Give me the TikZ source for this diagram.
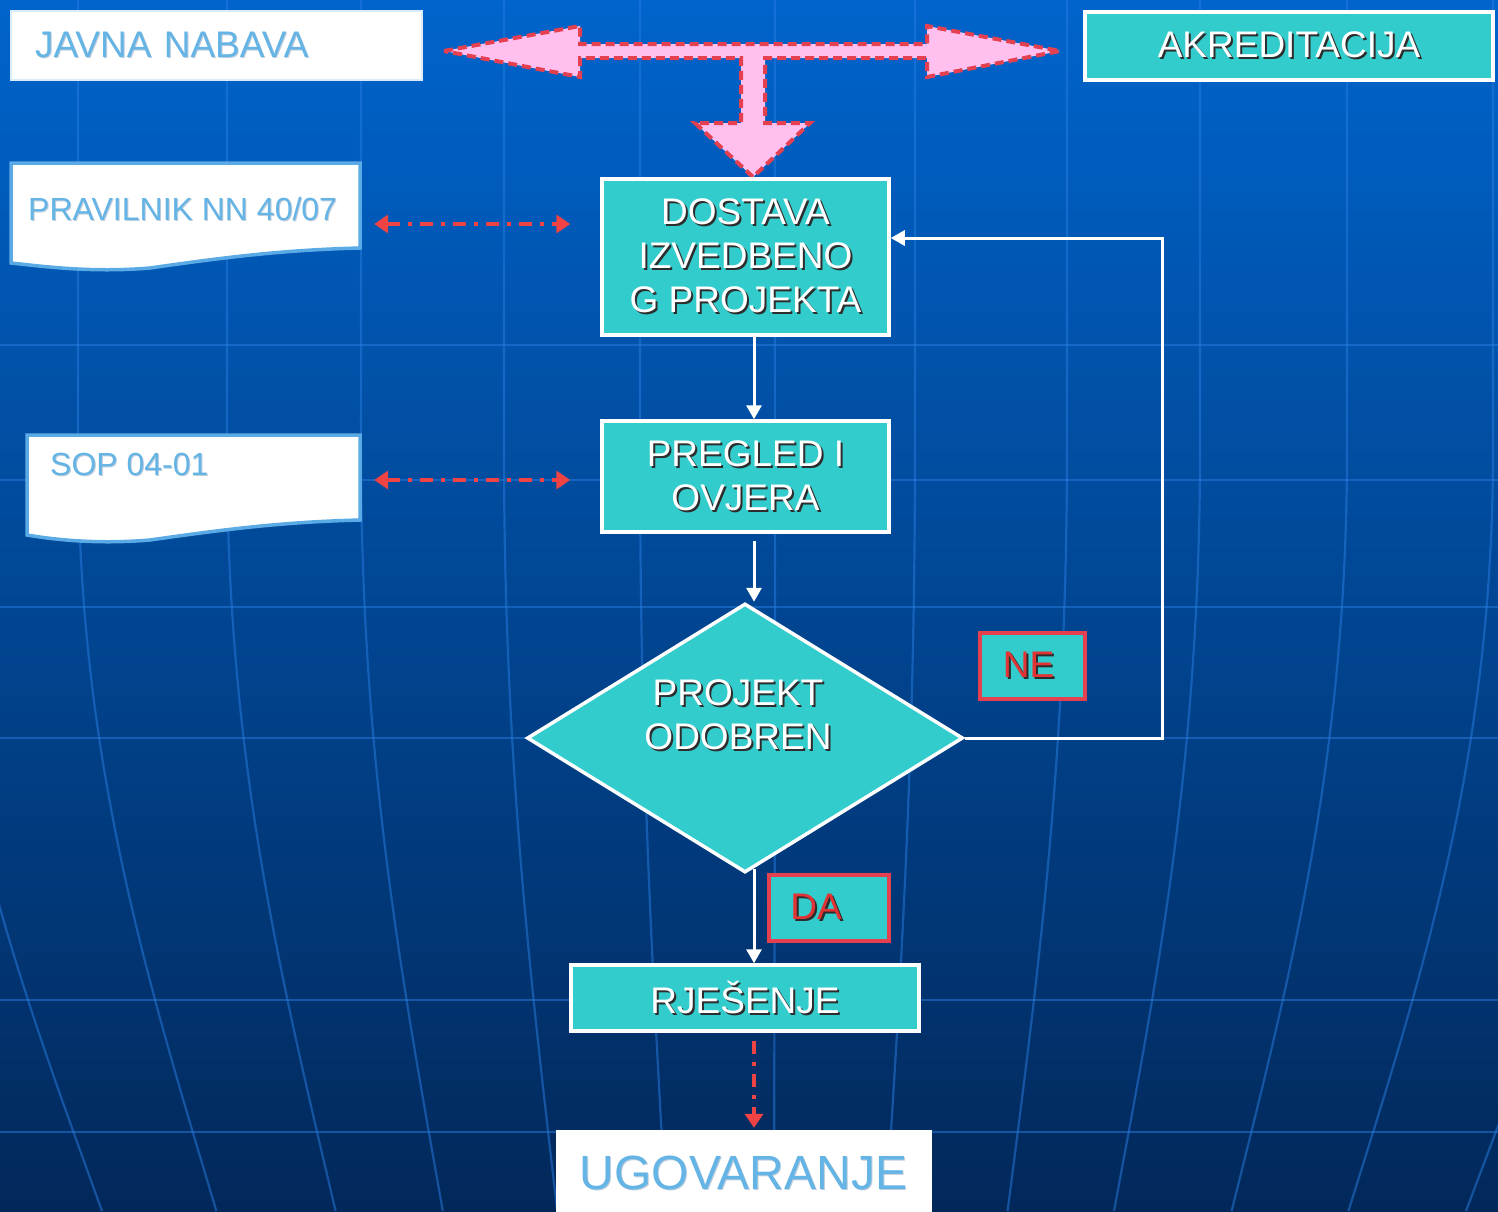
\documentclass[tikz,border=0pt]{standalone}
\usepackage{fontspec}
\setmainfont{Liberation Sans}
\usetikzlibrary{shapes.geometric,arrows.meta,calc}
\definecolor{teal1}{RGB}{51,204,204}
\definecolor{pinkf}{RGB}{255,192,240}
\definecolor{redd}{RGB}{228,64,80}
\definecolor{redl}{RGB}{240,68,68}
\definecolor{redt}{RGB}{226,52,52}
\definecolor{lblue}{RGB}{100,180,230}
\definecolor{docb}{RGB}{90,170,230}
\definecolor{shad}{RGB}{45,45,45}
\definecolor{shadl}{RGB}{190,205,220}
\definecolor{gridc}{RGB}{40,125,225}
\definecolor{bgtop}{RGB}{0,100,204}
\definecolor{bgmid}{RGB}{4,72,148}
\definecolor{bgbot}{RGB}{2,40,90}
\newcommand\shtx[2][white]{\leavevmode\rlap{\kern2pt\raisebox{-2pt}{\textcolor{shad}{#2}}}\textcolor{#1}{#2}}
\newcommand\shbl[1]{\leavevmode\rlap{\kern1pt\raisebox{-1pt}{\textcolor{shadl}{#1}}}\textcolor{lblue}{#1}}
\tikzset{
  big/.style={font=\fontsize{37}{44}\selectfont},
  procbox/.style={draw=white, line width=3.5pt, fill=teal1, inner sep=0pt, big, align=center},
  labbox/.style={draw=redd, line width=3.5pt, fill=teal1, inner sep=0pt, big},
  whitebox/.style={draw=white!75!lblue, line width=1.5pt, fill=white, inner sep=0pt, big},
  docshape/.style={draw=docb, line width=3.5pt, fill=white},
  flow/.style={draw=white, line width=3pt, line join=miter, -{Triangle[length=14pt,width=15pt]}},
  refarrow/.style={draw=redl, line width=4pt, dash pattern=on 13pt off 8pt on 4pt off 8pt, {Triangle[length=14pt,width=18pt]}-{Triangle[length=14pt,width=18pt]}},
  refdown/.style={draw=redl, line width=4pt, dash pattern=on 13pt off 8pt on 4pt off 8pt, -{Triangle[length=14pt,width=18pt]}},
  gridline/.style={draw=gridc, line width=2.2pt, opacity=0.5},
  bigarrow/.style={fill=pinkf, draw=redd, line width=4pt, dash pattern=on 9pt off 5pt, line join=miter},
}
\begin{document}
\begin{tikzpicture}[x=1pt,y=-1pt]
\useasboundingbox (0,0) rectangle (1498,1211);
\clip (0,0) rectangle (1498,1211);
% background
\shade[top color=bgtop, middle color=bgmid, bottom color=bgbot] (0,0) rectangle (1498,1211);
\foreach \yy in {345,480,607,738,1000,1132}{
  \draw[gridline] (0,\yy) -- (1498,\yy);
}
\foreach \xx in {-65,78,227,361,504,640,775,915,1067,1200,1347,1493,1640}{
  \pgfmathsetmacro\xb{770+0.8*(\xx-770)}
  \pgfmathsetmacro\xc{770+0.9*(\xx-770)}
  \draw[gridline] (\xx,0) -- (\xx,450) .. controls (\xx,760) and (\xc,980) .. (\xb,1211);
}
% top block arrow
\path[bigarrow] (444,51) -- (580,26) -- (580,44) -- (927,44) -- (927,26) -- (1060,51) -- (927,77) -- (927,58) -- (765,58) -- (765,123) -- (810,123) -- (753,177) -- (695,123) -- (741,123) -- (741,58) -- (580,58) -- (580,77) -- cycle;
% top boxes
\node[whitebox, minimum height=69pt, text width=363pt, inner xsep=24pt, align=left] (javna) at (216.5,45.5) {\shbl{JAVNA NABAVA}};
\node[procbox, minimum width=408pt, minimum height=68pt] (akred) at (1289,46) {\shtx{AKREDITACIJA}};
% document shapes
\node[inner sep=0pt, minimum width=349pt, minimum height=100pt] (pravdoc) at (185.5,213) {};
\draw[docshape] (11,163) -- (360,163) -- (360,248) .. controls (280,250) and (220,258) .. (150,268) .. controls (90,273) and (40,266) .. (11,263) -- cycle;
\node[inner sep=0pt, anchor=base west, font=\fontsize{32}{38}\selectfont] (pravtxt) at (28,220) {\shbl{PRAVILNIK NN 40/07}};
\node[inner sep=0pt, minimum width=333pt, minimum height=100pt] (sopdoc) at (193.5,485) {};
\draw[docshape] (27,435) -- (360,435) -- (360,520) .. controls (280,522) and (220,530) .. (150,540) .. controls (90,545) and (45,538) .. (27,535) -- cycle;
\node[inner sep=0pt, anchor=base west, font=\fontsize{32}{38}\selectfont] (soptxt) at (50,475) {\shbl{SOP 04-01}};
% process boxes
\node[procbox, minimum width=287pt, minimum height=156pt] (dostava) at (745.5,257) {\shtx{DOSTAVA}\\\shtx{IZVEDBENO}\\\shtx{G PROJEKTA}};
\node[procbox, minimum width=287pt, minimum height=111pt] (pregled) at (745.5,476.5) {\shtx{PREGLED I}\\\shtx{OVJERA}};
\node[diamond, draw=white, line width=3.5pt, fill=teal1, inner sep=0pt, minimum width=436pt, minimum height=269pt] (dia) at (745,738) {};
\node[big, align=center, inner sep=0pt] (diatxt) at (738,716) {\shtx{PROJEKT}\\\shtx{ODOBREN}};
\node[labbox, minimum width=105pt, minimum height=66pt] (ne) at (1032.5,666) {\hspace*{-8pt}\shtx[redt]{NE}};
\node[labbox, minimum width=120pt, minimum height=66pt] (da) at (829,908) {\hspace*{-26pt}\shtx[redt]{DA}};
\node[procbox, minimum width=348pt, minimum height=66pt] (rjes) at (745,998) {\shtx{RJEŠENJE}};
\node[draw=white, fill=white, inner sep=0pt, minimum width=375pt, minimum height=86pt, font=\fontsize{48}{52}\selectfont] (ugov) at (743.5,1173) {\shbl{UGOVARANJE}};
% connectors
\draw[refarrow] ($(pravdoc.east)+(14,11)$) -- ($(dostava.west)+(-30,-33)$);
\draw[refarrow] ($(sopdoc.east)+(14,-5)$) -- ($(pregled.west)+(-30,3.5)$);
\draw[flow] ([xshift=8.5pt]dostava.south) -- ([xshift=8.5pt]pregled.north);
\draw[flow] ($(pregled.south)+(8.5,7)$) -- ($(dia.north)+(9,0)$);
\draw[flow] ($(dia.south)+(9,-5)$) -- ($(rjes.north)+(9,0)$);
\coordinate (loopc) at (1162,238);
\draw[flow] (dia.east) -| (loopc) -- ($(dostava.east)+(0,-19)$);
\draw[refdown] ($(rjes.south)+(9,8)$) -- ($(ugov.north)+(10.5,-2)$);
\end{tikzpicture}
\end{document}
